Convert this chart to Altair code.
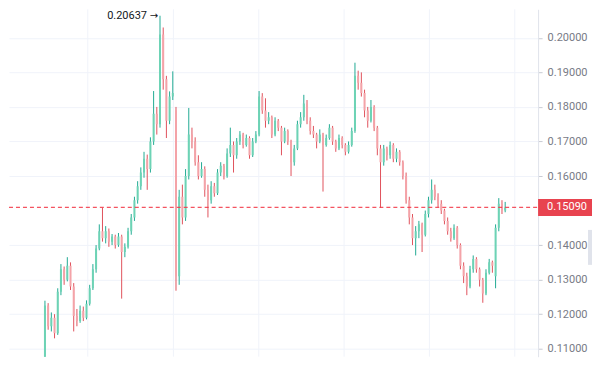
import altair as alt
import pandas as pd

# ---- data ----
opens = [0.1030, 0.1225, 0.1165, 0.1190, 0.1145, 0.1265, 0.1330, 0.1300, 0.1340, 0.1280,
         0.1195, 0.1180, 0.1210, 0.1190, 0.1230, 0.1275, 0.1330, 0.1390, 0.1440, 0.1420,
         0.1440, 0.1410, 0.1425, 0.1400, 0.1425, 0.1380, 0.1395, 0.1440, 0.1480, 0.1530,
         0.1570, 0.1610, 0.1650, 0.1620, 0.1700, 0.1780, 0.1750, 0.2010, 0.1880, 0.1760,
         0.1830, 0.1790, 0.1310, 0.1540, 0.1480, 0.1600, 0.1720, 0.1700, 0.1640, 0.1600,
         0.1620, 0.1560, 0.1530, 0.1570, 0.1550, 0.1610, 0.1630, 0.1600, 0.1665, 0.1690,
         0.1660, 0.1700, 0.1720, 0.1690, 0.1710, 0.1660, 0.1700, 0.1720, 0.1830, 0.1790,
         0.1760, 0.1770, 0.1720, 0.1760, 0.1740, 0.1700, 0.1730, 0.1700, 0.1640, 0.1680,
         0.1750, 0.1770, 0.1810, 0.1760, 0.1730, 0.1720, 0.1700, 0.1720, 0.1690, 0.1710,
         0.1740, 0.1700, 0.1680, 0.1710, 0.1690, 0.1670, 0.1690, 0.1730, 0.1890, 0.1870,
         0.1840, 0.1790, 0.1760, 0.1800, 0.1740, 0.1680, 0.1640, 0.1680, 0.1660, 0.1690,
         0.1650, 0.1670, 0.1640, 0.1600, 0.1530, 0.1480, 0.1420, 0.1440, 0.1460, 0.1430,
         0.1490, 0.1530, 0.1560, 0.1540, 0.1520, 0.1500, 0.1470, 0.1440, 0.1420, 0.1450,
         0.1400, 0.1340, 0.1310, 0.1280, 0.1330, 0.1360, 0.1330, 0.1300, 0.1260, 0.1320,
         0.1350, 0.1310, 0.1450, 0.1520, 0.1500]
highs = [0.1239, 0.1232, 0.1205, 0.1200, 0.1275, 0.1345, 0.1338, 0.1365, 0.1350, 0.1290,
         0.1215, 0.1225, 0.1222, 0.1240, 0.1285, 0.1345, 0.1400, 0.1460, 0.1508, 0.1455,
         0.1448, 0.1432, 0.1430, 0.1435, 0.1430, 0.1405, 0.1450, 0.1490, 0.1540, 0.1585,
         0.1625, 0.1670, 0.1662, 0.1712, 0.1846, 0.1800, 0.2064, 0.2030, 0.1890, 0.1845,
         0.1903, 0.1800, 0.1560, 0.1575, 0.1620, 0.1797, 0.1740, 0.1712, 0.1660, 0.1640,
         0.1628, 0.1575, 0.1585, 0.1580, 0.1620, 0.1640, 0.1635, 0.1680, 0.1740, 0.1700,
         0.1710, 0.1730, 0.1725, 0.1720, 0.1715, 0.1710, 0.1730, 0.1846, 0.1840, 0.1825,
         0.1785, 0.1775, 0.1770, 0.1765, 0.1745, 0.1740, 0.1735, 0.1705, 0.1690, 0.1760,
         0.1785, 0.1835, 0.1820, 0.1770, 0.1745, 0.1725, 0.1735, 0.1725, 0.1720, 0.1750,
         0.1745, 0.1705, 0.1720, 0.1715, 0.1695, 0.1700, 0.1740, 0.1928, 0.1905, 0.1900,
         0.1850, 0.1800, 0.1820, 0.1805, 0.1745, 0.1690, 0.1690, 0.1685, 0.1700, 0.1695,
         0.1680, 0.1675, 0.1645, 0.1610, 0.1540, 0.1490, 0.1455, 0.1470, 0.1465, 0.1500,
         0.1540, 0.1590, 0.1575, 0.1550, 0.1530, 0.1505, 0.1480, 0.1450, 0.1460, 0.1455,
         0.1405, 0.1350, 0.1320, 0.1340, 0.1370, 0.1365, 0.1335, 0.1305, 0.1330, 0.1360,
         0.1355, 0.1460, 0.1536, 0.1530, 0.1525]
lows = [0.1010, 0.1155, 0.1150, 0.1130, 0.1140, 0.1255, 0.1285, 0.1295, 0.1270, 0.1150,
        0.1165, 0.1175, 0.1180, 0.1185, 0.1225, 0.1270, 0.1320, 0.1385, 0.1410, 0.1405,
        0.1395, 0.1400, 0.1390, 0.1395, 0.1245, 0.1365, 0.1390, 0.1430, 0.1470, 0.1520,
        0.1560, 0.1595, 0.1560, 0.1610, 0.1690, 0.1720, 0.1740, 0.1850, 0.1710, 0.1750,
        0.1820, 0.1268, 0.1285, 0.1460, 0.1470, 0.1590, 0.1680, 0.1630, 0.1590, 0.1595,
        0.1540, 0.1480, 0.1520, 0.1540, 0.1545, 0.1600, 0.1590, 0.1595, 0.1655, 0.1610,
        0.1650, 0.1690, 0.1680, 0.1685, 0.1650, 0.1655, 0.1695, 0.1715, 0.1780, 0.1740,
        0.1750, 0.1710, 0.1715, 0.1730, 0.1660, 0.1695, 0.1690, 0.1600, 0.1630, 0.1675,
        0.1740, 0.1760, 0.1750, 0.1720, 0.1710, 0.1680, 0.1695, 0.1555, 0.1685, 0.1705,
        0.1690, 0.1670, 0.1675, 0.1680, 0.1660, 0.1665, 0.1685, 0.1725, 0.1850, 0.1830,
        0.1770, 0.1740, 0.1755, 0.1730, 0.1660, 0.1508, 0.1630, 0.1645, 0.1650, 0.1640,
        0.1640, 0.1630, 0.1590, 0.1520, 0.1460, 0.1400, 0.1370, 0.1420, 0.1380, 0.1425,
        0.1480, 0.1520, 0.1530, 0.1510, 0.1490, 0.1460, 0.1430, 0.1410, 0.1415, 0.1390,
        0.1330, 0.1290, 0.1255, 0.1275, 0.1320, 0.1320, 0.1280, 0.1233, 0.1255, 0.1315,
        0.1320, 0.1275, 0.1440, 0.1490, 0.1495]
closes = [0.1225, 0.1165, 0.1190, 0.1145, 0.1265, 0.1330, 0.1300, 0.1340, 0.1280, 0.1195,
          0.1180, 0.1210, 0.1190, 0.1230, 0.1275, 0.1330, 0.1390, 0.1440, 0.1420, 0.1440,
          0.1410, 0.1425, 0.1400, 0.1425, 0.1380, 0.1395, 0.1440, 0.1480, 0.1530, 0.1570,
          0.1610, 0.1650, 0.1620, 0.1700, 0.1780, 0.1750, 0.2010, 0.1880, 0.1760, 0.1830,
          0.1840, 0.1310, 0.1540, 0.1480, 0.1600, 0.1720, 0.1700, 0.1640, 0.1600, 0.1620,
          0.1560, 0.1530, 0.1570, 0.1550, 0.1610, 0.1630, 0.1600, 0.1665, 0.1690, 0.1660,
          0.1700, 0.1720, 0.1690, 0.1710, 0.1660, 0.1700, 0.1720, 0.1830, 0.1790, 0.1760,
          0.1770, 0.1720, 0.1760, 0.1740, 0.1700, 0.1730, 0.1700, 0.1640, 0.1680, 0.1750,
          0.1770, 0.1810, 0.1760, 0.1730, 0.1720, 0.1700, 0.1720, 0.1690, 0.1710, 0.1740,
          0.1700, 0.1680, 0.1710, 0.1690, 0.1670, 0.1690, 0.1730, 0.1890, 0.1870, 0.1840,
          0.1790, 0.1760, 0.1800, 0.1740, 0.1680, 0.1640, 0.1680, 0.1660, 0.1690, 0.1650,
          0.1670, 0.1640, 0.1600, 0.1530, 0.1480, 0.1420, 0.1440, 0.1460, 0.1430, 0.1490,
          0.1530, 0.1560, 0.1540, 0.1520, 0.1500, 0.1470, 0.1440, 0.1420, 0.1450, 0.1400,
          0.1340, 0.1310, 0.1280, 0.1330, 0.1360, 0.1330, 0.1300, 0.1260, 0.1320, 0.1350,
          0.1340, 0.1450, 0.1520, 0.1500, 0.1509]

# 0.15000 is hidden behind the last-price tag in the reference
price_ticks = [0.11, 0.12, 0.13, 0.14, 0.16, 0.17, 0.18, 0.19, 0.20, 0.21]
time_grid = [13.4, 40.2, 66.9, 93.6, 120.3, 147.0]   # vertical time gridlines (bar index)
last_price = 0.15090
peak_price = 0.20637
peak_index = 36

# ---- layout / style ----
W, H = 530, 348
TAG_W = 54
PX_PER_UNIT = 3460.0
Y_DOMAIN = [0.21 - (H + 6) / PX_PER_UNIT, 0.21 - 6 / PX_PER_UNIT]
X_DOMAIN = [-11.25, 154.3]

UP_BODY, UP_WICK = "#6dd3b5", "#22ab94"
DN_BODY, DN_WICK = "#f4a3a8", "#e0525c"
GRID = "#f0f3fa"
LABEL = "#787b86"
RED = "#f23645"
FONT = "Roboto"

df = pd.DataFrame({"i": list(range(len(opens))), "open": opens, "high": highs,
                   "low": lows, "close": closes})

xs = alt.Scale(domain=X_DOMAIN, nice=False, zero=False, padding=0)
ys = alt.Scale(domain=Y_DOMAIN, nice=False, zero=False)
y_axis = alt.Axis(orient="right", values=price_ticks, format=".5f",
                  grid=True, gridColor=GRID, gridWidth=1,
                  domainColor="#e0e3eb", tickColor="#c8cbd3",
                  tickSize=4, labelPadding=5, labelColor=LABEL,
                  labelFontSize=11, labelFont=FONT, labelFlush=False, title=None)


def Y(field):
    return alt.Y(field, scale=ys, axis=y_axis, title=None)


def X(field):
    return alt.X(field, scale=xs, axis=None)


up = "datum.close >= datum.open"

wicks = alt.Chart(df).mark_rule(strokeWidth=1, clip=True).encode(
    x=X("i:Q"), y=Y("low:Q"), y2="high:Q",
    color=alt.condition(up, alt.value(UP_WICK), alt.value(DN_WICK)),
)

bodies = alt.Chart(df).mark_bar(size=2, clip=True).encode(
    x=X("i:Q"), y=Y("open:Q"), y2="close:Q",
    color=alt.condition(up, alt.value(UP_BODY), alt.value(DN_BODY)),
)

vgrid = alt.Chart(pd.DataFrame({"t": time_grid})).mark_rule(
    color=GRID, strokeWidth=1).encode(x=X("t:Q"))

last_df = pd.DataFrame({"p": [last_price], "lab": [f"{last_price:.5f}"]})

last_line = alt.Chart(last_df).mark_rule(
    color=RED, strokeWidth=1.2, strokeDash=[4, 3], opacity=0.85).encode(
    y=Y("p:Q"), x=alt.value(0), x2=alt.value(W))

last_box = alt.Chart(last_df).mark_rect(
    color="#e8434f", yOffset=-8.5, y2Offset=8.5).encode(
    y=Y("p:Q"), y2="p:Q", x=alt.value(W), x2=alt.value(W + TAG_W))

last_text = alt.Chart(last_df).mark_text(
    color="white", fontSize=11, font=FONT, align="left", baseline="middle").encode(
    y=Y("p:Q"), x=alt.value(W + 9), text="lab:N")

peak_df = pd.DataFrame({"i": [peak_index], "p": [peak_price],
                        "lab": [f"{peak_price:.5f}"], "arrow": ["→"]})

peak_num = alt.Chart(peak_df).mark_text(
    align="right", baseline="middle", dx=-13, fontSize=11, font=FONT,
    color="#131722").encode(x=X("i:Q"), y=Y("p:Q"), text="lab:N")

peak_arrow = alt.Chart(peak_df).mark_text(
    align="right", baseline="middle", dx=-2, fontSize=10, font="DejaVu Sans",
    color="#131722").encode(x=X("i:Q"), y=Y("p:Q"), text="arrow:N")

tab = alt.Chart(pd.DataFrame({"k": [0]})).mark_rect(color="#e0e3eb").encode(
    x=alt.value(W + TAG_W - 4), x2=alt.value(W + TAG_W), y=alt.value(221), y2=alt.value(256))

chart = alt.layer(vgrid, wicks, bodies, last_line, last_box, last_text,
                  peak_num, peak_arrow, tab).properties(
    width=W, height=H, padding=0, background="white"
).configure_view(stroke=None)

chart.save("out.html", embed_options={"renderer": "svg", "actions": False})
